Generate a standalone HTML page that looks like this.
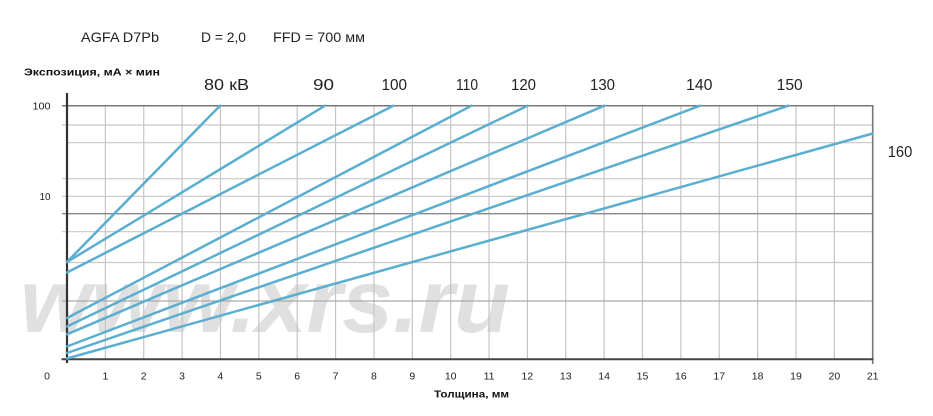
<!DOCTYPE html>
<html><head><meta charset="utf-8"><style>
html,body{margin:0;padding:0;background:#fff;}
svg{display:block;}
text{font-family:"Liberation Sans",sans-serif;fill:#222;}
</style></head><body>
<svg width="933" height="416" viewBox="0 0 933 416" xmlns="http://www.w3.org/2000/svg">
<rect width="933" height="416" fill="#fff"/>
<!-- watermark -->
<text x="20" y="332" font-size="90" font-weight="bold" font-style="italic" style="fill:#e0e0e0" textLength="490" lengthAdjust="spacingAndGlyphs">www.xrs.ru</text>
<!-- vertical grid -->
<g stroke="#c4c4c4" stroke-width="1.2">
<line x1="105.37" y1="105.7" x2="105.37" y2="359"/>
<line x1="143.73" y1="105.7" x2="143.73" y2="359"/>
<line x1="182.1" y1="105.7" x2="182.1" y2="359"/>
<line x1="220.47" y1="105.7" x2="220.47" y2="359"/>
<line x1="258.83" y1="105.7" x2="258.83" y2="359"/>
<line x1="297.2" y1="105.7" x2="297.2" y2="359"/>
<line x1="335.57" y1="105.7" x2="335.57" y2="359"/>
<line x1="373.93" y1="105.7" x2="373.93" y2="359"/>
<line x1="412.3" y1="105.7" x2="412.3" y2="359"/>
<line x1="450.67" y1="105.7" x2="450.67" y2="359"/>
<line x1="489.03" y1="105.7" x2="489.03" y2="359"/>
<line x1="527.4" y1="105.7" x2="527.4" y2="359"/>
<line x1="565.77" y1="105.7" x2="565.77" y2="359"/>
<line x1="604.13" y1="105.7" x2="604.13" y2="359"/>
<line x1="642.5" y1="105.7" x2="642.5" y2="359"/>
<line x1="680.87" y1="105.7" x2="680.87" y2="359"/>
<line x1="719.23" y1="105.7" x2="719.23" y2="359"/>
<line x1="757.6" y1="105.7" x2="757.6" y2="359"/>
<line x1="795.97" y1="105.7" x2="795.97" y2="359"/>
<line x1="834.33" y1="105.7" x2="834.33" y2="359"/>
</g>
<!-- horizontal grid -->
<g stroke="#c8c8c8" stroke-width="1.2">
<line x1="62" y1="125" x2="872.7" y2="125"/>
<line x1="67" y1="142.7" x2="872.7" y2="142.7"/>
<line x1="62" y1="178.7" x2="872.7" y2="178.7"/>
<line x1="62" y1="196.3" x2="872.7" y2="196.3"/>
<line x1="62" y1="231.7" x2="872.7" y2="231.7"/>
<line x1="67" y1="262.5" x2="872.7" y2="262.5"/>
</g>
<line x1="62" y1="213.7" x2="872.7" y2="213.7" stroke="#888" stroke-width="1.4"/>
<line x1="62" y1="301" x2="872.7" y2="301" stroke="#aaa" stroke-width="1.3"/>
<line x1="62" y1="105.7" x2="872.7" y2="105.7" stroke="#777" stroke-width="1.5"/>
<line x1="872.7" y1="105" x2="872.7" y2="364" stroke="#777" stroke-width="1.6"/>
<!-- axes -->
<line x1="61.5" y1="359.3" x2="873.5" y2="359.3" stroke="#444" stroke-width="2"/>
<line x1="67" y1="93" x2="67" y2="363" stroke="#333" stroke-width="2.2"/>
<!-- series -->
<g stroke="#5aaed0" stroke-width="2.5" stroke-linecap="round" fill="none">
<line x1="67" y1="262" x2="220" y2="105.7"/>
<line x1="67" y1="262" x2="325" y2="105.7"/>
<line x1="67" y1="272.5" x2="393.3" y2="105.7"/>
<line x1="67" y1="318" x2="471.5" y2="105.7"/>
<line x1="67" y1="326.5" x2="527.7" y2="105.7"/>
<line x1="67" y1="334.3" x2="604.3" y2="105.7"/>
<line x1="67" y1="346.5" x2="700" y2="105.7"/>
<line x1="67" y1="353" x2="788.3" y2="105.7"/>
<line x1="67" y1="358.5" x2="872.7" y2="133.5"/>
</g>
<!-- title -->
<text x="81" y="42" font-size="14" textLength="78" lengthAdjust="spacingAndGlyphs">AGFA D7Pb</text>
<text x="201" y="42" font-size="14" textLength="45" lengthAdjust="spacingAndGlyphs">D = 2,0</text>
<text x="273" y="42" font-size="14" textLength="92" lengthAdjust="spacingAndGlyphs">FFD = 700 мм</text>
<!-- axis titles -->
<text x="24" y="75.5" font-size="10.5" font-weight="bold" textLength="136" lengthAdjust="spacingAndGlyphs" style="fill:#111">Экспозиция, мА × мин</text>
<text x="434" y="397.5" font-size="10.5" font-weight="bold" textLength="75" lengthAdjust="spacingAndGlyphs" style="fill:#111">Толщина, мм</text>
<!-- kV labels -->
<g font-size="15.5">
<text x="204" y="90" textLength="45" lengthAdjust="spacingAndGlyphs">80 кВ</text>
<text x="313" y="90" textLength="21" lengthAdjust="spacingAndGlyphs">90</text>
<text x="381.5" y="90" textLength="25.5" lengthAdjust="spacingAndGlyphs">100</text>
<text x="456" y="90" textLength="22" lengthAdjust="spacingAndGlyphs">110</text>
<text x="511" y="90" textLength="25" lengthAdjust="spacingAndGlyphs">120</text>
<text x="590" y="90" textLength="25" lengthAdjust="spacingAndGlyphs">130</text>
<text x="686" y="90" textLength="26.5" lengthAdjust="spacingAndGlyphs">140</text>
<text x="776.7" y="90" textLength="26" lengthAdjust="spacingAndGlyphs">150</text>
<text x="887.7" y="157" textLength="24.6" lengthAdjust="spacingAndGlyphs">160</text>
</g>
<!-- y tick labels -->
<text x="32.5" y="109.3" font-size="10" textLength="18" lengthAdjust="spacingAndGlyphs">100</text>
<text x="39.5" y="200" font-size="10" textLength="11" lengthAdjust="spacingAndGlyphs">10</text>
<!-- x tick labels -->
<g font-size="10.5" text-anchor="middle">
<text x="47" y="379.5">0</text>
<text x="105.37" y="379.5">1</text>
<text x="143.73" y="379.5">2</text>
<text x="182.1" y="379.5">3</text>
<text x="220.47" y="379.5">4</text>
<text x="258.83" y="379.5">5</text>
<text x="297.2" y="379.5">6</text>
<text x="335.57" y="379.5">7</text>
<text x="373.93" y="379.5">8</text>
<text x="412.3" y="379.5">9</text>
<text x="450.67" y="379.5">10</text>
<text x="489.03" y="379.5">11</text>
<text x="527.4" y="379.5">12</text>
<text x="565.77" y="379.5">13</text>
<text x="604.13" y="379.5">14</text>
<text x="642.5" y="379.5">15</text>
<text x="680.87" y="379.5">16</text>
<text x="719.23" y="379.5">17</text>
<text x="757.6" y="379.5">18</text>
<text x="795.97" y="379.5">19</text>
<text x="834.33" y="379.5">20</text>
<text x="872.7" y="379.5">21</text>
</g>
</svg>
</body></html>
